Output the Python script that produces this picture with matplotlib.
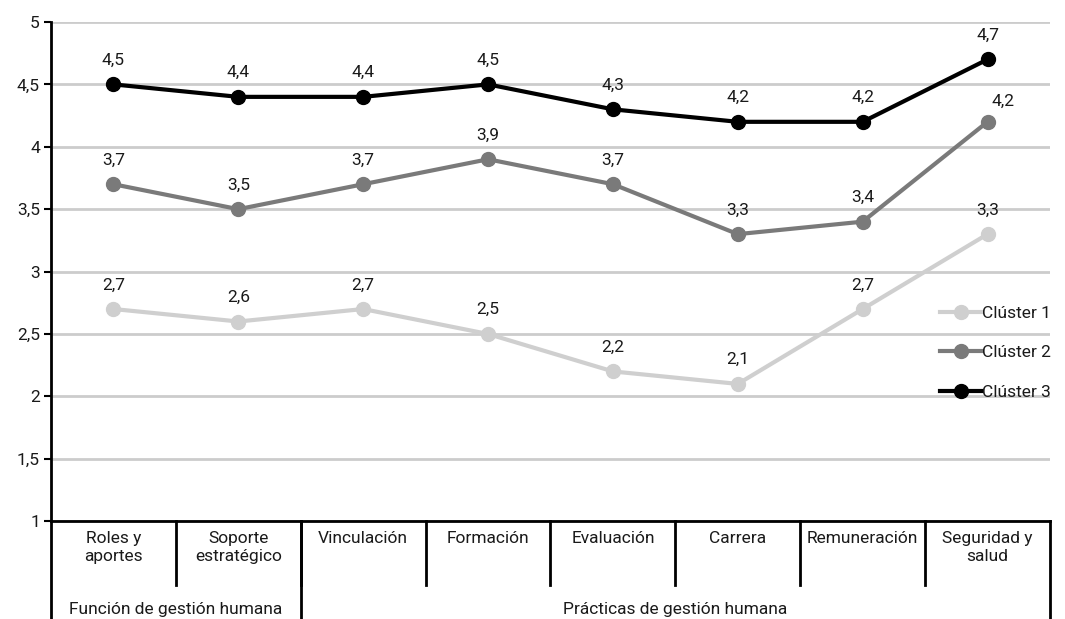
import matplotlib
matplotlib.use("Agg")
import matplotlib.pyplot as plt
from matplotlib.lines import Line2D
from matplotlib.ticker import FuncFormatter

plt.rcParams["font.family"] = ["Roboto", "DejaVu Sans"]

categories = ["Roles y\naportes", "Soporte\nestratégico", "Vinculación", "Formación",
              "Evaluación", "Carrera", "Remuneración", "Seguridad y\nsalud"]
groups = ["Función de gestión humana", "Prácticas de gestión humana"]
group_sizes = [2, 6]

cluster1 = [2.7, 2.6, 2.7, 2.5, 2.2, 2.1, 2.7, 3.3]
cluster2 = [3.7, 3.5, 3.7, 3.9, 3.7, 3.3, 3.4, 4.2]
cluster3 = [4.5, 4.4, 4.4, 4.5, 4.3, 4.2, 4.2, 4.7]

series = [("Clúster 1", cluster1, "#cfcfcf"),
          ("Clúster 2", cluster2, "#7a7a7a"),
          ("Clúster 3", cluster3, "#000000")]

TEXT = "#1a1a1a"
FS = 12.5


def fmt(v):
    return f"{v:g}".replace(".", ",")


fig = plt.figure(figsize=(10.65, 6.19), dpi=100)
ax = fig.add_axes([0.0479, 0.158, 0.938, 0.8065])

x = list(range(len(categories)))
for name, vals, color in series:
    ax.plot(x, vals, color=color, linewidth=3, marker="o", markersize=10,
            label=name, zorder=3, clip_on=False)
    for i, v in enumerate(vals):
        last2 = name == "Clúster 2" and i == len(vals) - 1
        dx, dy = (11, 9) if last2 else (0, 12)
        ax.annotate(fmt(v), (i, v), xytext=(dx, dy), textcoords="offset points",
                    ha="center", va="bottom", fontsize=FS, color=TEXT)

ax.set_xlim(-0.5, len(categories) - 0.5)
ax.set_ylim(1, 5)
ax.set_yticks([1, 1.5, 2, 2.5, 3, 3.5, 4, 4.5, 5])
ax.yaxis.set_major_formatter(FuncFormatter(lambda v, p: fmt(v)))
ax.set_xticks([])
ax.tick_params(axis="y", length=5, width=1.5, color="black", labelsize=FS,
               labelcolor=TEXT, pad=3)
ax.grid(axis="y", color="#cccccc", linewidth=2)
ax.set_axisbelow(True)
for s in ["top", "right"]:
    ax.spines[s].set_visible(False)
ax.spines["left"].set_linewidth(2)
ax.spines["bottom"].set_linewidth(2)

# category table below the axis
tr = ax.get_xaxis_transform()
row1_bottom = -0.128
table_bottom = -0.196
for i, cat in enumerate(categories):
    ax.text(i, -0.019, cat, transform=tr, ha="center", va="top", fontsize=FS,
            color=TEXT, linespacing=1.3)
    if i > 0:
        ax.add_line(Line2D([i - 0.5, i - 0.5], [0, row1_bottom], transform=tr,
                           color="black", linewidth=2, clip_on=False))

start = -0.5
for g, n in zip(groups, group_sizes):
    end = start + n
    ax.text((start + end) / 2, -0.176, g, transform=tr, ha="center", va="center",
            fontsize=FS, color=TEXT)
    ax.add_line(Line2D([end, end], [0, table_bottom], transform=tr,
                       color="black", linewidth=2, clip_on=False))
    start = end
ax.add_line(Line2D([-0.5, -0.5], [0, table_bottom], transform=tr,
                   color="black", linewidth=2, clip_on=False))

leg = fig.legend(loc="center left", bbox_to_anchor=(0.876, 0.43), frameon=False,
                 fontsize=FS, handlelength=2.4, handletextpad=0.0, labelspacing=1.4,
                 borderaxespad=0)
for t in leg.get_texts():
    t.set_color(TEXT)

fig.savefig("out.png", dpi=100, facecolor="white")
